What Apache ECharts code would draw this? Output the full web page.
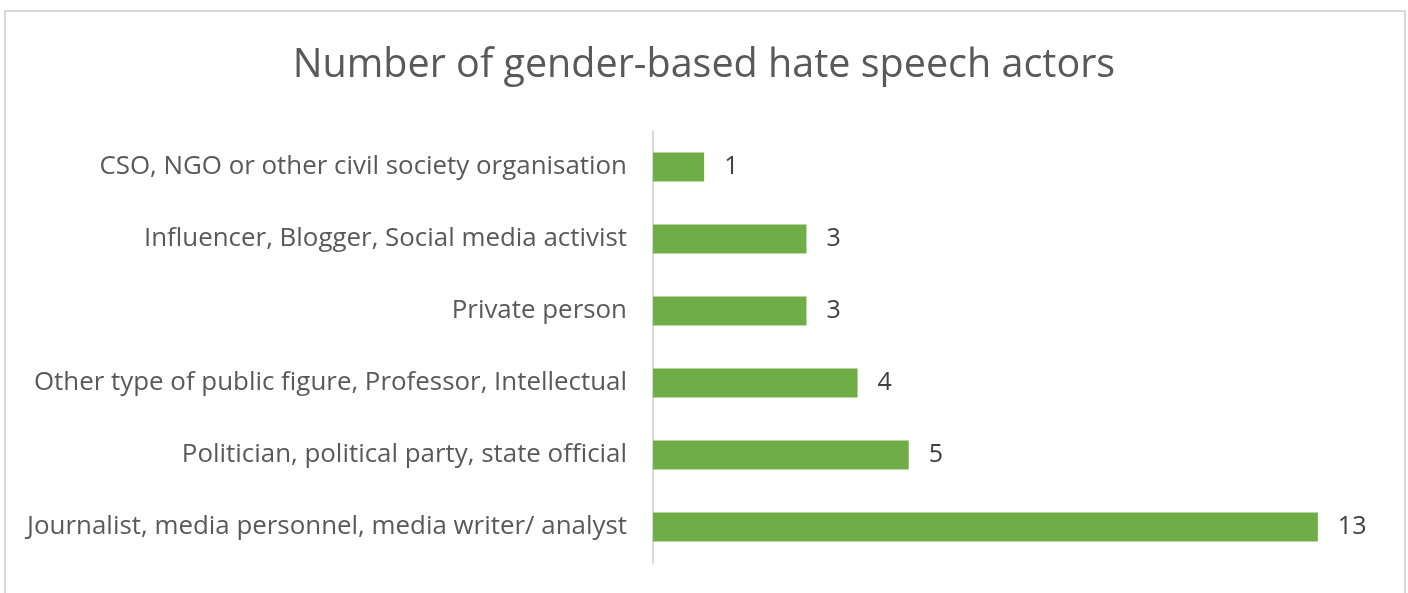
<!DOCTYPE html>
<html>
<head>
<meta charset="utf-8">
<script src="https://cdn.jsdelivr.net/npm/echarts@6/dist/echarts.min.js"></script>
<style>
  html, body { margin: 0; padding: 0; background: #fff; }
  #chart { width: 1408px; height: 593px; }
</style>
</head>
<body>
<div id="chart"></div>
<script>
// Actor categories, listed bottom to top as the category axis draws them
const categories = [
  'Journalist, media personnel, media writer/ analyst',
  'Politician, political party, state official',
  'Other type of public figure, Professor, Intellectual',
  'Private person',
  'Influencer, Blogger, Social media activist',
  'CSO, NGO or other civil society organisation'
];
const actorCounts = [13, 5, 4, 3, 3, 1];
const chartTitle = 'Number of gender-based hate speech actors';

const FONT = '"Open Sans", "Noto Sans", sans-serif';

const chart = echarts.init(document.getElementById('chart'), null, { renderer: 'canvas' });
chart.setOption({
  animation: false,
  backgroundColor: '#ffffff',
  graphic: [{
    type: 'rect',
    shape: { x: 5, y: 11, width: 1400, height: 620 },
    style: { fill: 'none', stroke: '#d9d9d9', lineWidth: 2 },
    silent: true
  }],
  title: {
    text: chartTitle,
    left: 'center',
    top: 41,
    textStyle: { color: '#595959', fontSize: 39.5, fontWeight: 'normal', fontFamily: FONT }
  },
  grid: { left: 653, top: 131, width: 716, height: 432, containLabel: false },
  xAxis: {
    type: 'value',
    min: 0,
    max: 14,
    show: false
  },
  yAxis: {
    type: 'category',
    data: categories,
    axisLine: { show: true, lineStyle: { color: '#d9d9d9', width: 2 } },
    axisTick: { show: false },
    axisLabel: {
      color: '#595959',
      fontSize: 25.9,
      fontFamily: FONT,
      margin: 26
    }
  },
  series: [{
    type: 'bar',
    data: actorCounts,
    barWidth: 29,
    itemStyle: { color: '#70ad47' },
    label: {
      show: true,
      position: 'right',
      distance: 20,
      color: '#404040',
      fontSize: 25,
      fontFamily: FONT
    }
  }]
});
</script>
</body>
</html>
